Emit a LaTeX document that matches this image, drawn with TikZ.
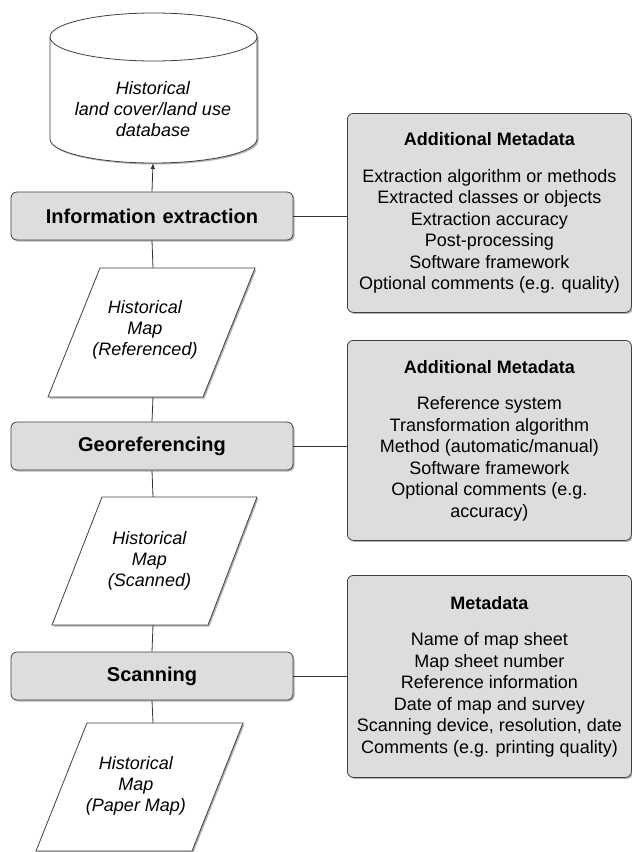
\documentclass[tikz,border=0pt]{standalone}
\usepackage{fontspec}
\setmainfont{Liberation Sans}
\usetikzlibrary{shadows,arrows.meta}
\begin{document}
\begin{tikzpicture}[x=1pt,y=-1pt,
  line width=0.8pt,
  ln/.style={draw=black!75},
  shad/.style={drop shadow={shadow xshift=1.5pt,shadow yshift=-1.5pt,opacity=0.3,fill=black}},
  proc/.style={ln, shad, rectangle, rounded corners=6pt, fill=gray!27, minimum width=282pt, minimum height=48pt, font=\fontsize{20}{24}\selectfont\bfseries, inner sep=0pt},
  meta/.style={ln, shad, rectangle, rounded corners=6pt, fill=gray!27, minimum width=284pt, align=center, anchor=north west, font=\fontsize{18}{21.5}\selectfont, inner sep=0pt},
  datatext/.style={align=center, font=\fontsize{18}{21}\selectfont\itshape, inner sep=0pt},
  conn/.style={draw=black!80, line width=0.8pt}
]
\useasboundingbox (0,0) rectangle (632,852);

% database cylinder
\path[fill=white, ln, shad] (50,37) -- (50,139) arc[start angle=180,end angle=360,x radius=103.5pt,y radius=24pt] -- (257,37) arc[start angle=0,end angle=180,x radius=103.5pt,y radius=24pt] -- cycle;
\draw[ln] (50,37) arc[start angle=180,end angle=360,x radius=103.5pt,y radius=24pt];
\node[datatext] (db) at (153,109) {Historical\\land cover/land use\\database};
\coordinate (dbbot) at (153,163);

% data parallelograms
\path[fill=white, ln, shad] (100,268) -- (255,268) -- (203,397) -- (48,397) -- cycle;
\node[datatext] (p1) at (145,330) {Historical\\Map\\(Referenced)};
\coordinate (p1t) at (153,268);
\coordinate (p1b) at (153,397);

\path[fill=white, ln, shad] (102,497) -- (257,497) -- (208,625) -- (52,625) -- cycle;
\node[datatext] (p2) at (149.5,561) {Historical\\Map\\(Scanned)};
\coordinate (p2t) at (153,497);
\coordinate (p2b) at (153,625);

\path[fill=white, ln, shad] (87,723) -- (243,723) -- (192,851) -- (36,851) -- cycle;
\node[datatext] (p3) at (136,786) {Historical\\Map\\(Paper Map)};
\coordinate (p3t) at (153,723);

% process boxes
\node[proc] (info) at (152,216) {Information\,\,extraction};
\node[proc] (geo) at (152,446) {Georeferencing};
\node[proc] (scan) at (152,676) {Scanning};

% metadata boxes
\node[meta, minimum height=199pt] (m1) at (347,113) {\textbf{Additional Metadata}\\[15pt]Extraction algorithm or methods\\Extracted classes or objects\\Extraction accuracy\\Post-processing\\Software framework\\Optional comments (e.g. quality)};
\node[meta, minimum height=200pt] (m2) at (347,340) {\textbf{Additional Metadata}\\[15pt]Reference system\\Transformation algorithm\\Method (automatic/manual)\\Software framework\\Optional comments (e.g.\\accuracy)};
\node[meta, minimum height=202pt] (m3) at (347,575) {\textbf{Metadata}\\[15pt]Name of map sheet\\Map sheet number\\Reference information\\Date of map and survey\\Scanning device, resolution, date\\Comments (e.g. printing quality)};

% connectors
\draw[conn, -{Latex[length=6pt,width=4.5pt]}] (info.north) -- (dbbot);
\draw[conn] (info.south) -- (p1t);
\draw[conn] (p1b) -- (geo.north);
\draw[conn] (geo.south) -- (p2t);
\draw[conn] (p2b) -- (scan.north);
\draw[conn] (scan.south) -- (p3t);
\draw[conn] (info.east) -- (info.east -| m1.west);
\draw[conn] (geo.east) -- (geo.east -| m2.west);
\draw[conn] (scan.east) -- (scan.east -| m3.west);
\end{tikzpicture}
\end{document}
